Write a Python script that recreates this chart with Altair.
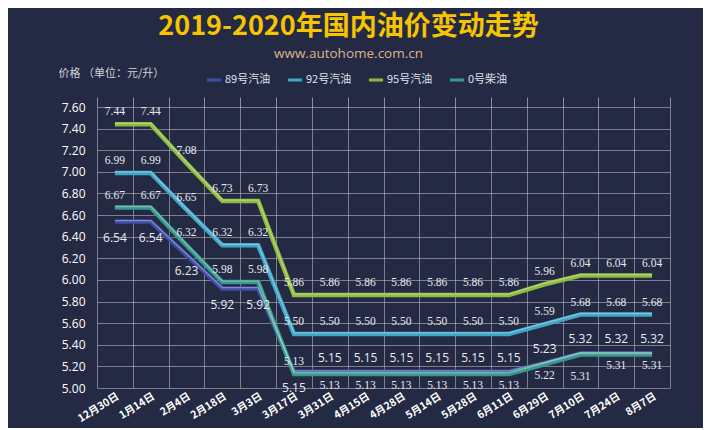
import altair as alt
import pandas as pd

dates = ["12月30日", "1月14日", "2月4日", "2月18日", "3月3日", "3月17日", "3月31日", "4月15日",
         "4月28日", "5月14日", "5月28日", "6月11日", "6月29日", "7月10日", "7月24日", "8月7日"]
series = ["89号汽油", "92号汽油", "95号汽油", "0号柴油"]
p89 = [6.54, 6.54, 6.23, 5.92, 5.92, 5.15, 5.15, 5.15, 5.15, 5.15, 5.15, 5.15, 5.23, 5.32, 5.32, 5.32]
p92 = [6.99, 6.99, 6.65, 6.32, 6.32, 5.50, 5.50, 5.50, 5.50, 5.50, 5.50, 5.50, 5.59, 5.68, 5.68, 5.68]
p95 = [7.44, 7.44, 7.08, 6.73, 6.73, 5.86, 5.86, 5.86, 5.86, 5.86, 5.86, 5.86, 5.96, 6.04, 6.04, 6.04]
p0 = [6.67, 6.67, 6.32, 5.98, 5.98, 5.13, 5.13, 5.13, 5.13, 5.13, 5.13, 5.13, 5.22, 5.31, 5.31, 5.31]
y_ticks = [5.0, 5.2, 5.4, 5.6, 5.8, 6.0, 6.2, 6.4, 6.6, 6.8, 7.0, 7.2, 7.4, 7.6]

colors = ["#3e4ea6", "#3ea6c6", "#8dbb3c", "#35998c"]

rows = []
for s, vals in zip(series, [p89, p92, p95, p0]):
    for i, (d, v) in enumerate(zip(dates, vals)):
        # label placement (style only)
        if s == "89号汽油":
            side = "b89" if i <= 5 else "a89"
        elif s == "0号柴油":
            side = "a" if i <= 5 else ("b2" if i == 13 else "b")
        else:
            side = "a"
        rows.append({"date": d, "series": s, "value": v, "side": side})
df = pd.DataFrame(rows)

xscale = alt.Scale(type="band", paddingInner=0, paddingOuter=0)
yscale = alt.Scale(domain=[5.0, 7.6], zero=False, nice=False)

yaxis = alt.Axis(values=y_ticks, format=".2f", titleAngle=0,
                 titleX=-39, titleY=-34, titleAlign="left", titleBaseline="middle",
                 titleColor="#d0d3dc", titleFontSize=11, titleFontWeight="normal",
                 titleFont="Noto Sans CJK SC",
                 grid=True, ticks=False, domain=False, labelColor="#ffffff",
                 labelFontSize=12, labelFont="Open Sans", labelPadding=12,
                 gridColor="#cfd2dc", gridOpacity=0.5, gridWidth=1)
Y = alt.Y("value:Q", scale=yscale, axis=yaxis, title="价格 （单位：元/升）")

base = alt.Chart(df)

lines = base.mark_line(strokeWidth=4.5, strokeJoin="miter").encode(
    x=alt.X("date:N", sort=dates, scale=xscale,
            axis=alt.Axis(orient="bottom", title=None, tickBand="extent", grid=True, ticks=False,
                          domain=False, labelAngle=-32, labelColor="#ffffff", labelFontSize=10.5,
                          labelFont="Noto Sans CJK SC", labelFontWeight="bold", labelPadding=3,
                          gridColor="#cfd2dc", gridOpacity=0.5, gridWidth=1)),
    y=Y,
    color=alt.Color("series:N", scale=alt.Scale(domain=series, range=colors),
                    legend=alt.Legend(title=None, orient="none", legendX=108, legendY=-36,
                                      direction="horizontal", symbolType="stroke",
                                      symbolStrokeWidth=3, symbolSize=200, labelColor="#dfe2ea",
                                      labelFontSize=11, labelFont="Noto Sans CJK SC",
                                      columnPadding=10, labelOffset=2)),
    detail="series:N",
)

shine = base.mark_line(strokeWidth=1.3, color="#ffffff", opacity=0.35, yOffset=-1).encode(
    x=alt.X("date:N", sort=dates, scale=xscale,
            axis=alt.Axis(orient="top", title=None, tickBand="extent", grid=False, ticks=True,
                          tickSize=10, tickColor="#cfd2dc", tickOpacity=0.6, labels=False,
                          domain=False)),
    y=Y,
    detail="series:N",
)


def labels(side, dy, font, size):
    return base.transform_filter(alt.datum.side == side).mark_text(
        dy=dy, font=font, fontSize=size, color="#e9e9ee", baseline="middle"
    ).encode(
        x=alt.X("date:N", sort=dates, scale=xscale, axis=None),
        y=Y,
        text=alt.Text("value:Q", format=".2f"),
    )


chart = alt.layer(
    lines, shine,
    labels("a", -12, "Liberation Serif", 11.5),
    labels("b", 12, "Liberation Serif", 11.5),
    labels("b2", 23, "Liberation Serif", 11.5),
    labels("a89", -14, "Open Sans", 12),
    labels("b89", 16, "Open Sans", 12),
).resolve_axis(x="independent").properties(
    width=573, height=281,
    autosize=alt.AutoSizeParams(type="none"),
    padding={"left": 89, "top": 99, "right": 33, "bottom": 40},
    title=alt.TitleParams(
        text="2019-2020年国内油价变动走势",
        subtitle="www.autohome.com.cn",
        anchor="middle", frame="group", dx=-35, offset=6,
        font="Noto Sans CJK SC", fontSize=27, fontWeight="bold", color="#f6c400",
        subtitleFont="Open Sans", subtitleFontSize=13.5, subtitleColor="#d9b48e",
        subtitlePadding=6,
    ),
).configure(background="#242a43").configure_view(stroke="transparent")

chart.save("out.html", embed_options={"renderer": "svg", "actions": False})
